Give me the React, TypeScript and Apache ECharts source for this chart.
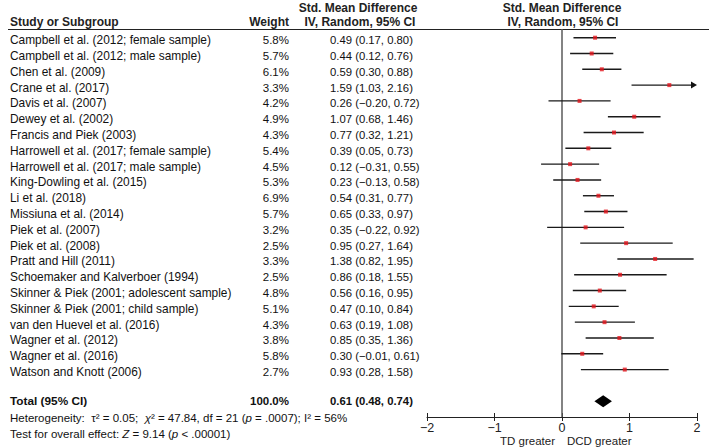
import React, { useEffect, useRef } from "react";
import * as echarts from "echarts";

const studies = [
  "Campbell et al. (2012; female sample)",
  "Campbell et al. (2012; male sample)",
  "Chen et al. (2009)",
  "Crane et al. (2017)",
  "Davis et al. (2007)",
  "Dewey et al. (2002)",
  "Francis and Piek (2003)",
  "Harrowell et al. (2017; female sample)",
  "Harrowell et al. (2017; male sample)",
  "King-Dowling et al. (2015)",
  "Li et al. (2018)",
  "Missiuna et al. (2014)",
  "Piek et al. (2007)",
  "Piek et al. (2008)",
  "Pratt and Hill (2011)",
  "Schoemaker and Kalverboer (1994)",
  "Skinner & Piek (2001; adolescent sample)",
  "Skinner & Piek (2001; child sample)",
  "van den Huevel et al. (2016)",
  "Wagner et al. (2012)",
  "Wagner et al. (2016)",
  "Watson and Knott (2006)",
];
const weights = [5.8, 5.7, 6.1, 3.3, 4.2, 4.9, 4.3, 5.4, 4.5, 5.3, 6.9, 5.7, 3.2, 2.5, 3.3, 2.5, 4.8, 5.1, 4.3, 3.8, 5.8, 2.7];
const estimates = [0.49, 0.44, 0.59, 1.59, 0.26, 1.07, 0.77, 0.39, 0.12, 0.23, 0.54, 0.65, 0.35, 0.95, 1.38, 0.86, 0.56, 0.47, 0.63, 0.85, 0.3, 0.93];
const lowers = [0.17, 0.12, 0.3, 1.03, -0.2, 0.68, 0.32, 0.05, -0.31, -0.13, 0.31, 0.33, -0.22, 0.27, 0.82, 0.18, 0.16, 0.1, 0.19, 0.35, -0.01, 0.28];
const uppers = [0.8, 0.76, 0.88, 2.16, 0.72, 1.46, 1.21, 0.73, 0.55, 0.58, 0.77, 0.97, 0.92, 1.64, 1.95, 1.55, 0.95, 0.84, 1.08, 1.36, 0.61, 1.58];

const totalLabel = "Total (95% CI)";
const totalWeight = 100.0;
const totalEstimate = 0.61;
const totalLower = 0.48;
const totalUpper = 0.74;
const totalRow = 23;

const xTicks = [-2, -1, 0, 1, 2];

const FONT = "'Liberation Sans', Arial, Helvetica, sans-serif";
const fmt = (v: number) => (v < 0 ? "\u2212" + Math.abs(v).toFixed(2) : v.toFixed(2));
const ciText = (e: number, l: number, u: number) => `${fmt(e)} (${fmt(l)}, ${fmt(u)})`;

export default function App() {
  const ref = useRef<HTMLDivElement>(null);
  useEffect(() => {
    if (!ref.current) return;
    const chart = echarts.init(ref.current, undefined, { renderer: "svg" });

    const rowText = (
      y: number,
      name: string,
      weight: string,
      ci: string,
      bold: boolean
    ) => {
      const w = bold ? "bold " : "";
      return {
        type: "group",
        children: [
          {
            type: "text",
            style: {
              text: name, x: 10, y, fill: "#111",
              font: `${w}${bold ? 11.8 : 11.9}px ${FONT}`,
              align: "left", verticalAlign: "middle",
              textAlign: "left", textVerticalAlign: "middle",
            },
          },
          {
            type: "text",
            style: {
              text: weight, x: 289, y, fill: "#111",
              font: `${w}11.5px ${FONT}`,
              align: "right", verticalAlign: "middle",
              textAlign: "right", textVerticalAlign: "middle",
            },
          },
          {
            type: "text",
            style: {
              text: ci, x: 330, y, fill: "#111",
              font: `${w}11.3px ${FONT}`,
              align: "left", verticalAlign: "middle",
              textAlign: "left", textVerticalAlign: "middle",
            },
          },
        ],
      };
    };

    const textData = studies.map((_, i) => [0, i]);
    textData.push([0, totalRow]);

    const ciData = studies.map((_, i) => [lowers[i], uppers[i], i, estimates[i]]);

    const headerStyle = (text: string, x: number, y: number, align: string) => ({
      type: "text",
      style: {
        text, x, y, fill: "#222",
        font: `bold 12px ${FONT}`,
        textAlign: align, textVerticalAlign: "middle",
        align, verticalAlign: "middle",
      },
    });

    const option: any = {
      animation: false,
      grid: { left: 427, right: 12, top: 29, bottom: 31, containLabel: false },
      xAxis: [
        {
          type: "value",
          min: xTicks[0],
          max: xTicks[xTicks.length - 1],
          interval: 1,
          position: "bottom",
          axisLine: { show: true, onZero: false, lineStyle: { color: "#222", width: 1 } },
          axisTick: { show: true, inside: false, length: 4, lineStyle: { color: "#222", width: 1 } },
          axisLabel: {
            show: true,
            margin: 4,
            color: "#222",
            fontSize: 12.5,
            fontFamily: FONT,
            formatter: (v: number) => (v < 0 ? "\u2212" + Math.abs(v) : String(v)),
          },
          splitLine: { show: false },
        },
        {
          type: "value",
          min: xTicks[0],
          max: xTicks[xTicks.length - 1],
          interval: 1,
          position: "bottom",
          offset: 0,
          axisLine: { show: false, onZero: false },
          axisTick: { show: true, inside: true, length: 4, lineStyle: { color: "#222", width: 1 } },
          axisLabel: { show: false },
          splitLine: { show: false },
        },
      ],
      yAxis: { type: "value", inverse: true, min: -0.55, max: 24, show: false },
      series: [
        {
          type: "custom",
          name: "texts",
          clip: false,
          silent: true,
          data: textData,
          encode: { x: 0, y: 1 },
          renderItem: (params: any, api: any) => {
            const idx = params.dataIndex;
            const row = api.value(1);
            const y = api.coord([0, row])[1];
            if (idx < studies.length) {
              return rowText(
                y + 2.5,
                studies[idx],
                weights[idx].toFixed(1) + "%",
                ciText(estimates[idx], lowers[idx], uppers[idx]),
                false
              );
            }
            return rowText(
              y,
              totalLabel,
              totalWeight.toFixed(1) + "%",
              ciText(totalEstimate, totalLower, totalUpper),
              true
            );
          },
          z: 5,
        },
        {
          type: "custom",
          name: "ci",
          clip: false,
          silent: true,
          data: ciData,
          encode: { x: [0, 1], y: 2 },
          renderItem: (params: any, api: any) => {
            const lo = api.value(0);
            const hi = api.value(1);
            const row = api.value(2);
            const y = api.coord([0, row])[1];
            const x1 = api.coord([lo, row])[0];
            const capped = hi > 2;
            const x2 = api.coord([capped ? 2 : hi, row])[0];
            const children: any[] = [
              {
                type: "line",
                shape: { x1, y1: y, x2: capped ? x2 - 5 : x2, y2: y },
                style: { stroke: "#1a1a1a", lineWidth: 1.4 },
              },
            ];
            if (capped) {
              children.push({
                type: "polygon",
                shape: { points: [[x2 - 6, y - 3.5], [x2, y], [x2 - 6, y + 3.5]] },
                style: { fill: "#111" },
              });
            }
            return { type: "group", children };
          },
          z: 3,
        },
        {
          type: "scatter",
          name: "estimates",
          silent: true,
          symbol: "rect",
          symbolSize: [4, 4],
          itemStyle: { color: "#e3141b" },
          data: estimates.map((e, i) => [e, i]),
          z: 6,
          markLine: {
            silent: true,
            symbol: "none",
            label: { show: false },
            lineStyle: { color: "#5a5a5a", width: 1.5, type: "solid" },
            data: [{ xAxis: 0 }],
            z: 1,
          },
        },
        {
          type: "custom",
          name: "total",
          clip: false,
          silent: true,
          data: [[totalLower, totalUpper, totalRow, totalEstimate]],
          encode: { x: [0, 1], y: 2 },
          renderItem: (params: any, api: any) => {
            const row = api.value(2);
            const y = api.coord([0, row])[1];
            const xl = api.coord([api.value(0), row])[0];
            const xr = api.coord([api.value(1), row])[0];
            const xm = api.coord([api.value(3), row])[0];
            const h = 6;
            return {
              type: "polygon",
              shape: { points: [[xl, y], [xm, y - h], [xr, y], [xm, y + h]] },
              style: { fill: "#000" },
            };
          },
          z: 6,
        },
      ],
      graphic: [
        headerStyle("Std. Mean Difference", 358, 8, "center"),
        headerStyle("Study or Subgroup", 10, 22, "left"),
        headerStyle("Weight", 289, 22, "right"),
        headerStyle("IV, Random, 95% CI", 360, 22, "center"),
        headerStyle("Std. Mean Difference", 562, 8, "center"),
        headerStyle("IV, Random, 95% CI", 563, 22, "center"),
        {
          type: "line",
          shape: { x1: 8, y1: 29.5, x2: 709, y2: 29.5 },
          style: { stroke: "#222", lineWidth: 1 },
        },
        {
          type: "text",
          style: {
            text: "{n|Heterogeneity:  \u03c4\u00b2 = 0.05;  }{i|\u03c7}{n|\u00b2 = 47.84, df = 21 (}{i|p}{n| = .0007); I\u00b2 = 56%}",
            x: 10, y: 418, fill: "#111",
            font: `11.5px ${FONT}`, textAlign: "left", textVerticalAlign: "middle",
            align: "left", verticalAlign: "middle",
            rich: {
              n: { fontSize: 11.5, fontFamily: FONT, fill: "#111", color: "#111" },
              i: { fontSize: 11.5, fontFamily: FONT, fontStyle: "italic", fill: "#111", color: "#111" },
            },
          },
        },
        {
          type: "text",
          style: {
            text: "{n|Test for overall effect: }{i|Z}{n| = 9.14 (}{i|p}{n| < .00001)}",
            x: 10, y: 434, fill: "#111",
            font: `11.5px ${FONT}`, textAlign: "left", textVerticalAlign: "middle",
            align: "left", verticalAlign: "middle",
            rich: {
              n: { fontSize: 11.5, fontFamily: FONT, fill: "#111", color: "#111" },
              i: { fontSize: 11.5, fontFamily: FONT, fontStyle: "italic", fill: "#111", color: "#111" },
            },
          },
        },
        {
          type: "text",
          style: {
            text: "TD greater", x: 555, y: 441, fill: "#222",
            font: `11.5px ${FONT}`, textAlign: "right", textVerticalAlign: "middle",
            align: "right", verticalAlign: "middle",
          },
        },
        {
          type: "text",
          style: {
            text: "DCD greater", x: 567, y: 441, fill: "#222",
            font: `11.5px ${FONT}`, textAlign: "left", textVerticalAlign: "middle",
            align: "left", verticalAlign: "middle",
          },
        },
      ],
    };

    chart.setOption(option);
    return () => chart.dispose();
  }, []);

  return (
    <div
      ref={ref}
      style={{ position: "fixed", left: 0, top: 0, width: 709, height: 448, background: "#fff" }}
    />
  );
}
